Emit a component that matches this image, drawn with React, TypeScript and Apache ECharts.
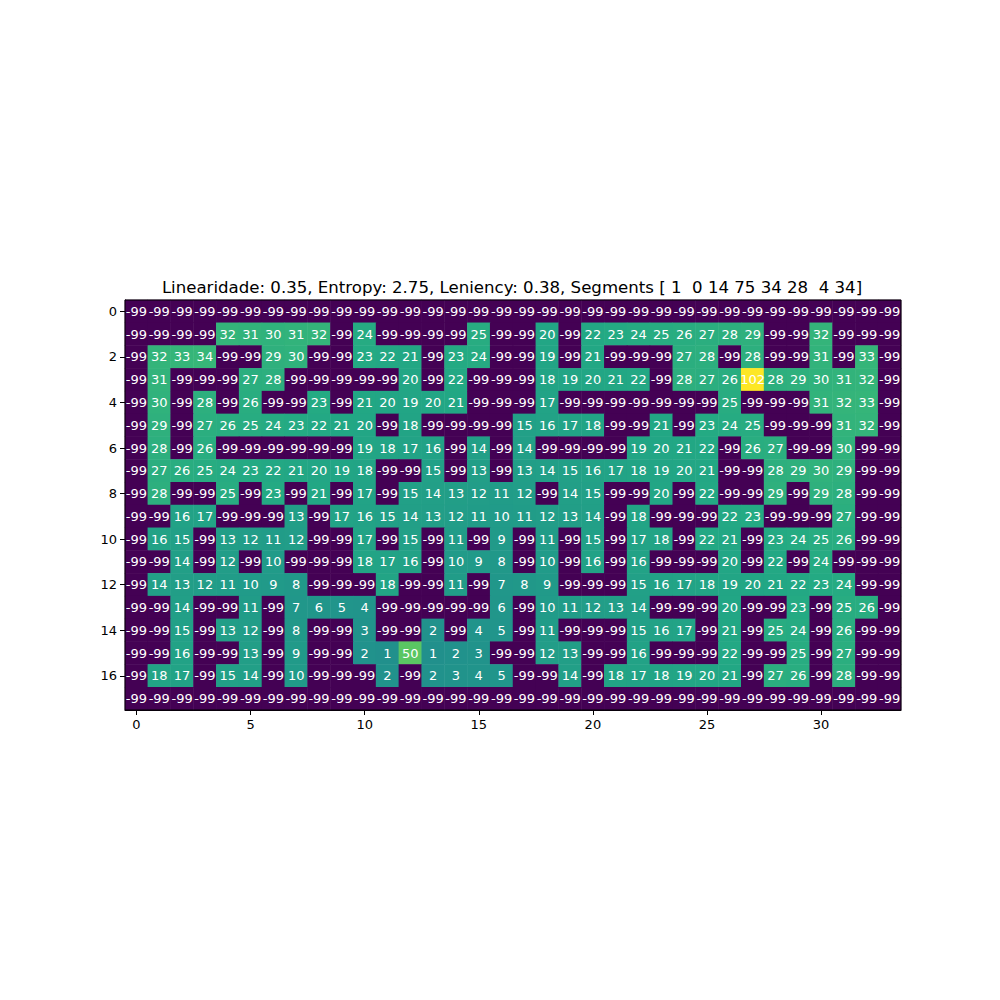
import React, { useEffect, useRef } from "react";
import * as echarts from "echarts";

const TITLE = "Linearidade: 0.35, Entropy: 2.75, Leniency: 0.38, Segments [ 1  0 14 75 34 28  4 34]";

const xCategories: string[] = Array.from({ length: 34 }, (_, i) => String(i));
const yCategories: string[] = Array.from({ length: 18 }, (_, i) => String(i));

const W = -99;
const row0 = [W,W,W,W,W,W,W,W,W,W,W,W,W,W,W,W,W,W,W,W,W,W,W,W,W,W,W,W,W,W,W,W,W,W];
const row1 = [W,W,W,W,32,31,30,31,32,W,24,W,W,W,W,25,W,W,20,W,22,23,24,25,26,27,28,29,W,W,32,W,W,W];
const row2 = [W,32,33,34,W,W,29,30,W,W,23,22,21,W,23,24,W,W,19,W,21,W,W,W,27,28,W,28,W,W,31,W,33,W];
const row3 = [W,31,W,W,W,27,28,W,W,W,W,W,20,W,22,W,W,W,18,19,20,21,22,W,28,27,26,102,28,29,30,31,32,W];
const row4 = [W,30,W,28,W,26,W,W,23,W,21,20,19,20,21,W,W,W,17,W,W,W,W,W,W,W,25,W,W,W,31,32,33,W];
const row5 = [W,29,W,27,26,25,24,23,22,21,20,W,18,W,W,W,W,15,16,17,18,W,W,21,W,23,24,25,W,W,W,31,32,W];
const row6 = [W,28,W,26,W,W,W,W,W,W,19,18,17,16,W,14,W,14,W,W,W,W,19,20,21,22,W,26,27,W,W,30,W,W];
const row7 = [W,27,26,25,24,23,22,21,20,19,18,W,W,15,W,13,W,13,14,15,16,17,18,19,20,21,W,W,28,29,30,29,W,W];
const row8 = [W,28,W,W,25,W,23,W,21,W,17,W,15,14,13,12,11,12,W,14,15,W,W,20,W,22,W,W,29,W,29,28,W,W];
const row9 = [W,W,16,17,W,W,W,13,W,17,16,15,14,13,12,11,10,11,12,13,14,W,18,W,W,W,22,23,W,W,W,27,W,W];
const row10 = [W,16,15,W,13,12,11,12,W,W,17,W,15,W,11,W,9,W,11,W,15,W,17,18,W,22,21,W,23,24,25,26,W,W];
const row11 = [W,W,14,W,12,W,10,W,W,W,18,17,16,W,10,9,8,W,10,W,16,W,16,W,W,W,20,W,22,W,24,W,W,W];
const row12 = [W,14,13,12,11,10,9,8,W,W,W,18,W,W,11,W,7,8,9,W,W,W,15,16,17,18,19,20,21,22,23,24,W,W];
const row13 = [W,W,14,W,W,11,W,7,6,5,4,W,W,W,W,W,6,W,10,11,12,13,14,W,W,W,20,W,W,23,W,25,26,W];
const row14 = [W,W,15,W,13,12,W,8,W,W,3,W,W,2,W,4,5,W,11,W,W,W,15,16,17,W,21,W,25,24,W,26,W,W];
const row15 = [W,W,16,W,W,13,W,9,W,W,2,1,50,1,2,3,W,W,12,13,W,W,16,W,W,W,22,W,W,25,W,27,W,W];
const row16 = [W,18,17,W,15,14,W,10,W,W,W,2,W,2,3,4,5,W,W,14,W,18,17,18,19,20,21,W,27,26,W,28,W,W];
const row17 = [W,W,W,W,W,W,W,W,W,W,W,W,W,W,W,W,W,W,W,W,W,W,W,W,W,W,W,W,W,W,W,W,W,W];

const gridRows: number[][] = [row0,row1,row2,row3,row4,row5,row6,row7,row8,row9,row10,row11,row12,row13,row14,row15,row16,row17];

const viridis = ["#440154","#482475","#414487","#355f8d","#2a788e","#21918c","#22a884","#44bf70","#7ad151","#bddf26","#fde725"];

export default function App() {
  const ref = useRef<HTMLDivElement>(null);
  useEffect(() => {
    if (!ref.current) return;
    const chart = echarts.init(ref.current, undefined, { renderer: "svg" });
    const data: [number, number, number][] = [];
    gridRows.forEach((r, y) => r.forEach((v, x) => data.push([x, y, v])));
    let mn = Infinity, mx = -Infinity;
    data.forEach((d) => { mn = Math.min(mn, d[2]); mx = Math.max(mx, d[2]); });
    chart.setOption({
      animation: false,
      backgroundColor: "#ffffff",
      textStyle: { fontFamily: "DejaVu Sans" },
      title: {
        text: TITLE,
        left: 507,
        textAlign: "center",
        top: 274,
        textStyle: { fontSize: 16.6, fontWeight: "normal", color: "#000", fontFamily: "DejaVu Sans" },
      },
      grid: { left: 125, top: 300, width: 776, height: 410, show: true, borderColor: "#000", borderWidth: 1, backgroundColor: "transparent", z: 10 },
      xAxis: {
        type: "category",
        data: xCategories,
        position: "bottom",
        splitArea: { show: false },
        axisLine: { show: true, lineStyle: { color: "#000" } },
        axisTick: { show: true, alignWithLabel: true, interval: 4, length: 5, lineStyle: { color: "#000" } },
        axisLabel: { interval: 4, fontSize: 13, color: "#000", margin: 8, fontFamily: "DejaVu Sans" },
      },
      yAxis: {
        type: "category",
        data: yCategories,
        inverse: true,
        splitArea: { show: false },
        axisLine: { show: true, lineStyle: { color: "#000" } },
        axisTick: { show: true, alignWithLabel: true, interval: 1, length: 5, lineStyle: { color: "#000" } },
        axisLabel: { interval: 1, fontSize: 13, color: "#000", margin: 8, fontFamily: "DejaVu Sans" },
      },
      visualMap: {
        show: false,
        type: "continuous",
        min: mn,
        max: mx,
        dimension: 2,
        inRange: { color: viridis },
      },
      series: [
        {
          type: "heatmap",
          data,
          label: {
            show: true,
            color: "#fff",
            fontSize: 13,
            fontFamily: "DejaVu Sans",
            formatter: (p: any) => String(p.value[2]),
          },
          itemStyle: { borderWidth: 0 },
          emphasis: { disabled: true },
        },
      ],
    });
    return () => chart.dispose();
  }, []);
  return <div ref={ref} style={{ position: "absolute", left: 0, top: 0, width: 1000, height: 1000 }} />;
}
